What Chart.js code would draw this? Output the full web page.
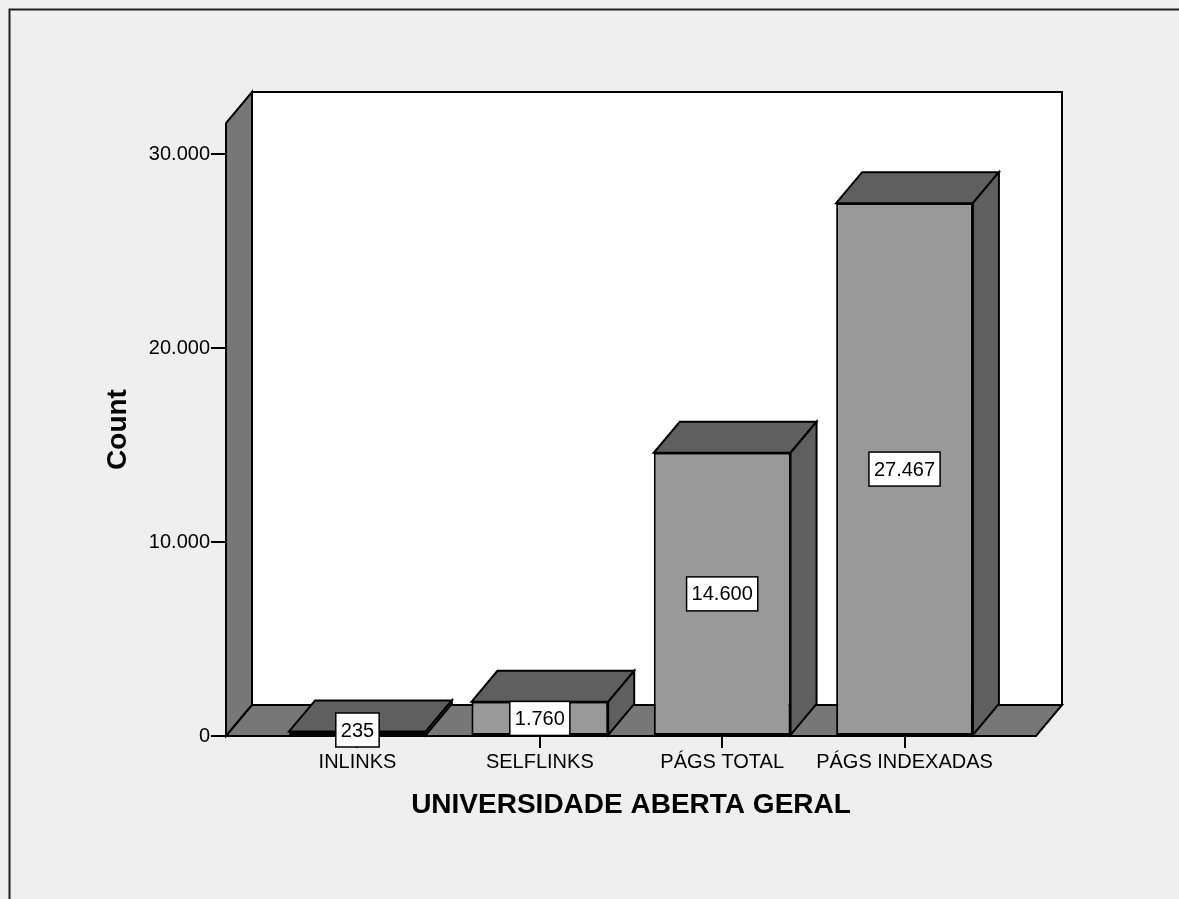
<!DOCTYPE html>
<html>
<head>
<meta charset="utf-8">
<script src="https://cdn.jsdelivr.net/npm/chart.js@4/dist/chart.umd.min.js"></script>
<style>
  html, body { margin: 0; padding: 0; background: #efefef; }
  #wrap { width: 1179px; height: 899px; }
</style>
</head>
<body>
<div id="wrap"><canvas id="c" width="1179" height="899"></canvas></div>
<script>
// ---- data ----
const categories = ['INLINKS', 'SELFLINKS', 'PÁGS TOTAL', 'PÁGS INDEXADAS'];
const counts = [235, 1760, 14600, 27467];
const countLabels = ['235', '1.760', '14.600', '27.467'];
const yTickValues = [0, 10000, 20000, 30000];
const yTickLabels = ['0', '10.000', '20.000', '30.000'];
const xAxisTitle = 'UNIVERSIDADE ABERTA GERAL';
const yAxisTitle = 'Count';

// ---- style ----
const FONT = "Arial, 'Liberation Sans', sans-serif";
const DEPTH_X = 26, DEPTH_Y = -31;
const C_BG = '#efefef', C_FRONT = '#999999', C_DARK = '#5f5f5f', C_WALL = '#777777';

function poly(ctx, pts, fill) {
  ctx.beginPath();
  ctx.moveTo(pts[0][0], pts[0][1]);
  for (let i = 1; i < pts.length; i++) ctx.lineTo(pts[i][0], pts[i][1]);
  ctx.closePath();
  ctx.fillStyle = fill;
  ctx.fill();
  ctx.stroke();
}

const threeD = {
  id: 'threeD',
  beforeDraw(chart) {
    const ctx = chart.ctx;
    ctx.save();
    ctx.fillStyle = C_BG;
    ctx.fillRect(0, 0, chart.width, chart.height);
    ctx.strokeStyle = '#222';
    ctx.lineWidth = 2;
    ctx.beginPath();
    ctx.moveTo(9.5, chart.height);
    ctx.lineTo(9.5, 9.5);
    ctx.lineTo(chart.width, 9.5);
    ctx.stroke();
    ctx.restore();
  },
  beforeDatasetsDraw(chart) {
    const ctx = chart.ctx;
    const {left, right, top, bottom} = chart.chartArea;
    ctx.save();
    ctx.lineWidth = 2;
    ctx.strokeStyle = '#000';
    ctx.lineJoin = 'miter';
    // back wall
    ctx.fillStyle = '#ffffff';
    ctx.fillRect(left + DEPTH_X, top + DEPTH_Y, right - left, bottom - top);
    ctx.strokeRect(left + DEPTH_X, top + DEPTH_Y, right - left, bottom - top);
    // left wall
    poly(ctx, [[left, bottom], [left, top], [left + DEPTH_X, top + DEPTH_Y], [left + DEPTH_X, bottom + DEPTH_Y]], C_WALL);
    // floor
    poly(ctx, [[left, bottom], [left + DEPTH_X, bottom + DEPTH_Y], [right + DEPTH_X, bottom + DEPTH_Y], [right, bottom]], C_WALL);
    ctx.restore();
  },
  afterDatasetsDraw(chart) {
    const ctx = chart.ctx;
    const meta = chart.getDatasetMeta(0);
    ctx.save();
    ctx.lineWidth = 2;
    ctx.strokeStyle = '#000';
    ctx.lineJoin = 'miter';
    meta.data.forEach((bar) => {
      const l = bar.x - bar.width / 2, r = bar.x + bar.width / 2;
      const t = bar.y, b = bar.base;
      poly(ctx, [[l, t], [l + DEPTH_X, t + DEPTH_Y], [r + DEPTH_X, t + DEPTH_Y], [r, t]], C_DARK);
      poly(ctx, [[r, t], [r + DEPTH_X, t + DEPTH_Y], [r + DEPTH_X, b + DEPTH_Y], [r, b]], C_DARK);
    });
    // value boxes
    ctx.font = '20px ' + FONT;
    ctx.textAlign = 'center';
    ctx.textBaseline = 'middle';
    meta.data.forEach((bar, i) => {
      const txt = countLabels[i];
      const w = ctx.measureText(txt).width + 10;
      const h = 34;
      const cx = bar.x, cy = Math.min((bar.y + bar.base) / 2, bar.base - 5);
      ctx.fillStyle = '#ffffff';
      ctx.lineWidth = 1.5;
      ctx.fillRect(cx - w / 2, cy - h / 2, w, h);
      ctx.strokeRect(cx - w / 2, cy - h / 2, w, h);
      ctx.fillStyle = '#000';
      ctx.fillText(txt, cx, cy + 1);
    });
    ctx.restore();
  }
};

new Chart(document.getElementById('c'), {
  type: 'bar',
  data: {
    datasets: [{
      data: counts.map((v, i) => ({x: i, y: v})),
      backgroundColor: C_FRONT,
      borderColor: '#000',
      borderWidth: 2,
      borderSkipped: false,
      barPercentage: 0.75,
      categoryPercentage: 1.0
    }]
  },
  options: {
    responsive: false,
    devicePixelRatio: 1,
    animation: false,
    events: [],
    layout: { padding: { top: 123, left: 0, right: 143, bottom: 0 } },
    plugins: { legend: { display: false }, tooltip: { enabled: false } },
    scales: {
      x: {
        type: 'linear',
        min: -0.721,
        max: 3.721,
        offset: false,
        afterFit(scale) { scale.height = 163; },
        afterBuildTicks(scale) { scale.ticks = categories.map((c, i) => ({value: i})); },
        grid: { offset: false, drawOnChartArea: false, drawTicks: true, tickLength: 12, color: '#000', lineWidth: 2 },
        border: { display: false },
        ticks: {
          autoSkip: false, maxRotation: 0, padding: 2, color: '#000',
          font: { family: FONT, size: 20 },
          callback: (v) => categories[v]
        },
        title: {
          display: true, text: xAxisTitle, color: '#000',
          font: { family: FONT, size: 28, weight: 'bold' },
          padding: { top: 0, bottom: 77 }
        }
      },
      y: {
        min: 0,
        max: 31598,
        afterFit(scale) { scale.width = 226; },
        afterBuildTicks(scale) { scale.ticks = yTickValues.map(v => ({value: v})); },
        grid: { drawOnChartArea: false, drawTicks: true, tickLength: 15, color: '#000', lineWidth: 2 },
        border: { display: false },
        ticks: {
          padding: 1, color: '#000',
          font: { family: FONT, size: 20 },
          callback: (v) => yTickLabels[yTickValues.indexOf(v)]
        },
        title: {
          display: true, text: yAxisTitle, color: '#000',
          font: { family: FONT, size: 28, weight: 'bold' },
          padding: { top: 101, bottom: 0 }
        }
      }
    }
  },
  plugins: [threeD]
});
</script>
</body>
</html>
